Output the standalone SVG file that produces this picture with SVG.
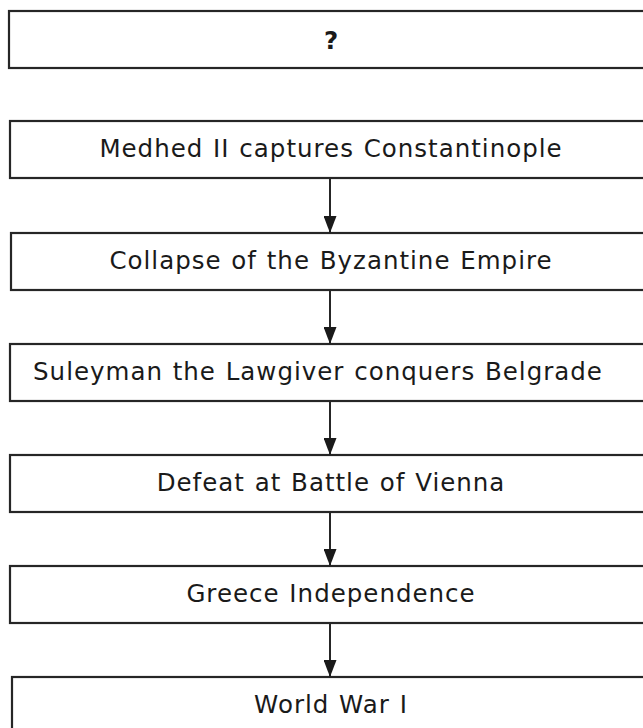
<svg xmlns="http://www.w3.org/2000/svg" width="643" height="728" viewBox="0 0 643 728">
<style>
.box{fill:#fff;stroke:#262626;stroke-width:2.2}
.t{font-family:"DejaVu Sans",Verdana,sans-serif;font-size:24.5px;letter-spacing:1px;word-spacing:1px;fill:#1a1a1a;text-anchor:middle}
.b{font-weight:bold;letter-spacing:0}
.c{stroke:#262626;stroke-width:2;fill:none}
</style>
<defs>
<marker id="ah" markerWidth="17" markerHeight="13" refX="17" refY="6.5" orient="auto" markerUnits="userSpaceOnUse" viewBox="0 0 17 13">
<path d="M0,0 L17,6.5 L0,13 Z" fill="#1a1a1a"/>
</marker>
</defs>
<rect width="643" height="728" fill="#fff"/>
<g id="n0"><rect class="box" x="9" y="11" width="645" height="57"/><text class="t b" x="331" y="49">?</text></g>
<g id="n1"><rect class="box" x="10" y="121" width="645" height="57"/><text class="t" x="331" y="157">Medhed II captures Constantinople</text></g>
<g id="n2"><rect class="box" x="11" y="233" width="645" height="57"/><text class="t" x="331" y="269">Collapse of the Byzantine Empire</text></g>
<g id="n3"><rect class="box" x="10" y="344" width="645" height="57"/><text class="t" x="318" y="380">Suleyman the Lawgiver conquers Belgrade</text></g>
<g id="n4"><rect class="box" x="10" y="455" width="645" height="57"/><text class="t" x="331" y="491">Defeat at Battle of Vienna</text></g>
<g id="n5"><rect class="box" x="10" y="566" width="645" height="57"/><text class="t" x="331" y="602">Greece Independence</text></g>
<g id="n6"><rect class="box" x="12" y="677" width="645" height="57"/><text class="t" x="331" y="713">World War I</text></g>
<g id="connectors">
<line class="c" x1="330" y1="178" x2="330" y2="233" marker-end="url(#ah)"/>
<line class="c" x1="330" y1="290" x2="330" y2="344" marker-end="url(#ah)"/>
<line class="c" x1="330" y1="401" x2="330" y2="455" marker-end="url(#ah)"/>
<line class="c" x1="330" y1="512" x2="330" y2="566" marker-end="url(#ah)"/>
<line class="c" x1="330" y1="623" x2="330" y2="677" marker-end="url(#ah)"/>
</g>
</svg>
